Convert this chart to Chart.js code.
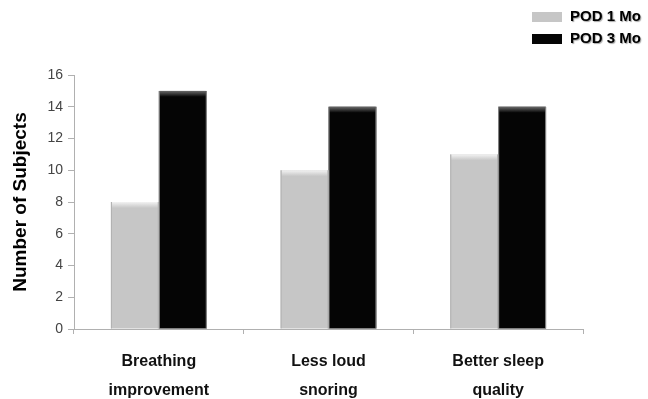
<!DOCTYPE html>
<html>
<head>
<meta charset="utf-8">
<script src="https://cdn.jsdelivr.net/npm/chart.js@4"></script>
<style>
  html, body { margin: 0; padding: 0; background: #fff; }
  #wrap { width: 648px; height: 399px; }
</style>
</head>
<body>
<div id="wrap"><canvas id="chart"></canvas></div>
<script>
// chart data
const categories = [['Breathing', 'improvement'], ['Less loud', 'snoring'], ['Better sleep', 'quality']];
const seriesNames = ['POD 1 Mo', 'POD 3 Mo'];
const pod1 = [8, 10, 11];
const pod3 = [15, 14, 14];
const yTicks = [0, 2, 4, 6, 8, 10, 12, 14, 16];

const FONT = '"Liberation Sans", Arial, sans-serif';

// little "3D" highlight on the top of each bar
const bevelPlugin = {
    id: 'bevel',
    afterDatasetsDraw(chart) {
        const ctx = chart.ctx;
        chart.data.datasets.forEach((ds, i) => {
            chart.getDatasetMeta(i).data.forEach(bar => {
                const left = bar.x - bar.width / 2;
                const g = ctx.createLinearGradient(0, bar.y, 0, bar.y + 6);
                g.addColorStop(0, ds.topColor);
                g.addColorStop(1, ds.backgroundColor);
                ctx.save();
                ctx.fillStyle = g;
                ctx.fillRect(left + 1, bar.y, bar.width - 2, 6);
                // thin light edges on the sides
                ctx.fillStyle = 'rgba(170,170,170,0.8)';
                ctx.fillRect(left, bar.y, 1, bar.base - bar.y);
                ctx.fillRect(left + bar.width - 1, bar.y, 1, bar.base - bar.y);
                ctx.restore();
            });
        });
    }
};

// legend in the upper right, one row per series
const legendPlugin = {
    id: 'cornerLegend',
    afterDraw(chart) {
        const ctx = chart.ctx;
        ctx.save();
        ctx.font = 'bold 15px ' + FONT;
        ctx.textBaseline = 'middle';
        chart.data.datasets.forEach((ds, i) => {
            const y = 17 + i * 22;
            ctx.fillStyle = ds.backgroundColor;
            ctx.fillRect(532, y - 5, 30, 10);
            ctx.shadowColor = 'rgba(0,0,0,0.35)';
            ctx.shadowOffsetX = 1;
            ctx.shadowOffsetY = 1;
            ctx.shadowBlur = 1;
            ctx.fillStyle = '#000';
            ctx.fillText(ds.label, 570, y);
            ctx.shadowColor = 'transparent';
        });
        ctx.restore();
    }
};

new Chart(document.getElementById('chart'), {
    type: 'bar',
    data: {
        labels: categories,
        datasets: [
            { label: seriesNames[0], data: pod1, backgroundColor: '#c6c6c6', topColor: '#f2f2f2' },
            { label: seriesNames[1], data: pod3, backgroundColor: '#050505', topColor: '#6a6a6a' }
        ]
    },
    options: {
        responsive: true,
        maintainAspectRatio: false,
        animation: false,
        layout: { padding: { top: 75, right: 65, left: 0, bottom: 0 } },
        datasets: {
            bar: { categoryPercentage: 0.565, barPercentage: 1.0, borderWidth: 0 }
        },
        plugins: {
            legend: { display: false },
            tooltip: { enabled: false }
        },
        scales: {
            x: {
                grid: { offset: true, drawOnChartArea: false, tickLength: 5, color: '#b0b0b0' },
                border: { color: '#b0b0b0' },
                ticks: {
                    color: '#111',
                    font: { family: FONT, size: 16, weight: 'bold', lineHeight: 1.8 },
                    padding: 13,
                    maxRotation: 0
                },
                afterFit(scale) { scale.height = 70; }
            },
            y: {
                min: 0,
                max: 16,
                afterBuildTicks(scale) { scale.ticks = yTicks.map(v => ({ value: v })); },
                grid: { drawOnChartArea: false, tickLength: 6, color: '#b0b0b0' },
                border: { color: '#b0b0b0' },
                ticks: {
                    color: '#444',
                    font: { family: FONT, size: 14 },
                    padding: 5
                },
                title: {
                    display: true,
                    text: 'Number of Subjects',
                    color: '#000',
                    font: { family: FONT, size: 19, weight: 'bold' },
                    padding: { top: 9, bottom: 0 }
                },
                afterFit(scale) { scale.width = 74; }
            }
        }
    },
    plugins: [bevelPlugin, legendPlugin]
});
</script>
</body>
</html>
